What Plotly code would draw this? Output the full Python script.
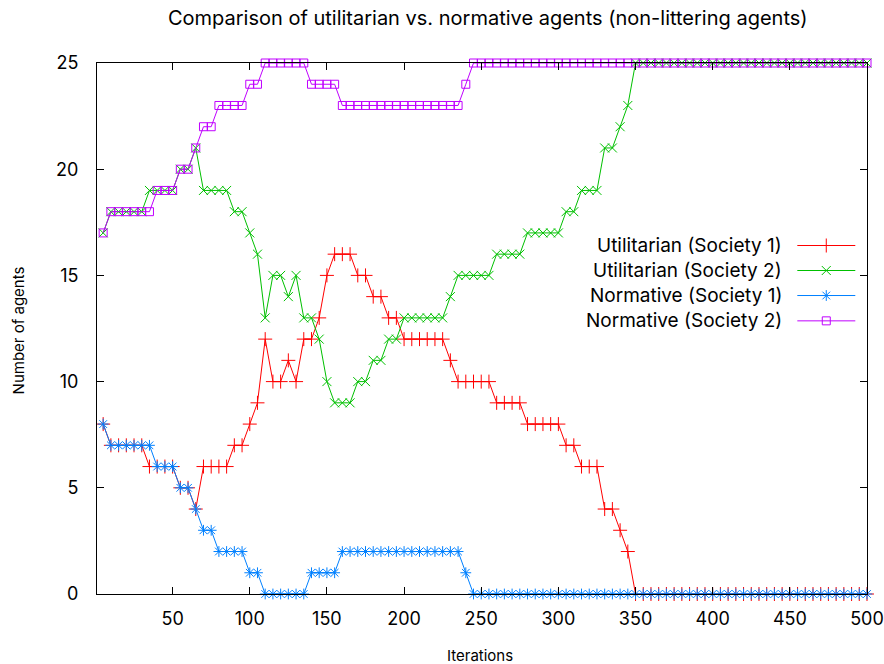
import plotly.graph_objects as go

# ---- data ----
iterations = list(range(5, 505, 5))

util_s1 = [8, 7, 7, 7, 7, 7, 6, 6, 6, 6, 5, 5, 4, 6, 6, 6, 6, 7, 7, 8,
           9, 12, 10, 10, 11, 10, 12, 12, 13, 15, 16, 16, 16, 15, 15, 14, 14, 13, 13, 12,
           12, 12, 12, 12, 12, 11, 10, 10, 10, 10, 10, 9, 9, 9, 9, 8, 8, 8, 8, 8,
           7, 7, 6, 6, 6, 4, 4, 3, 2, 0] + [0] * 30

util_s2 = [17, 18, 18, 18, 18, 18, 19, 19, 19, 19, 20, 20, 21, 19, 19, 19, 19, 18, 18, 17,
           16, 13, 15, 15, 14, 15, 13, 13, 12, 10, 9, 9, 9, 10, 10, 11, 11, 12, 12, 13,
           13, 13, 13, 13, 13, 14, 15, 15, 15, 15, 15, 16, 16, 16, 16, 17, 17, 17, 17, 17,
           18, 18, 19, 19, 19, 21, 21, 22, 23, 25] + [25] * 30

norm_s1 = [8, 7, 7, 7, 7, 7, 7, 6, 6, 6, 5, 5, 4, 3, 3, 2, 2, 2, 2, 1,
           1, 0, 0, 0, 0, 0, 0, 1, 1, 1, 1, 2, 2, 2, 2, 2, 2, 2, 2, 2,
           2, 2, 2, 2, 2, 2, 2, 1] + [0] * 52

norm_s2 = [17, 18, 18, 18, 18, 18, 18, 19, 19, 19, 20, 20, 21, 22, 22, 23, 23, 23, 23, 24,
           24, 25, 25, 25, 25, 25, 25, 24, 24, 24, 24, 23, 23, 23, 23, 23, 23, 23, 23, 23,
           23, 23, 23, 23, 23, 23, 23, 24] + [25] * 52

series_names = ["Utilitarian (Society 1)", "Utilitarian (Society 2)",
                "Normative (Society 1)", "Normative (Society 2)"]
series_values = [util_s1, util_s2, norm_s1, norm_s2]
colors = ["#ff0000", "#00c000", "#0080ff", "#c000ff"]
symbols = ["cross-thin-open", "x-thin-open", "asterisk-open", "square-open"]
sizes = [10, 9, 9, 8]

x_ticks = [50, 100, 150, 200, 250, 300, 350, 400, 450, 500]
y_ticks = [0, 5, 10, 15, 20, 25]

FONT = "Inter, Liberation Sans, Arial, sans-serif"

fig = go.Figure()
for name, vals, c, s, sz in zip(series_names, series_values, colors, symbols, sizes):
    fig.add_trace(go.Scatter(
        x=iterations, y=vals, mode="lines+markers", name=name,
        line=dict(color=c, width=1),
        marker=dict(symbol=s, size=sz, color=c, line=dict(color=c, width=1)),
        showlegend=False, cliponaxis=False,
    ))

# custom legend (text right, sample on the right), drawn in plot-fraction coords
leg_y = [0.6563, 0.6092, 0.5621, 0.5144]
lx0, lx1, lxm, ltx = 0.9095, 0.9848, 0.9471, 0.8913
for name, c, s, sz, yy in zip(series_names, colors, symbols, sizes, leg_y):
    fig.add_trace(go.Scatter(
        x=[lx0, lx1], y=[yy, yy], mode="lines", line=dict(color=c, width=1),
        xaxis="x2", yaxis="y2", showlegend=False, hoverinfo="skip"))
    fig.add_trace(go.Scatter(
        x=[lxm], y=[yy], mode="markers",
        marker=dict(symbol=s, size=sz, color=c, line=dict(color=c, width=1)),
        xaxis="x2", yaxis="y2", showlegend=False, hoverinfo="skip"))
    fig.add_annotation(x=ltx, y=yy, xref="paper", yref="paper", text=name,
                       showarrow=False, xanchor="right", yanchor="middle", borderpad=0,
                       font=dict(family=FONT, size=19, color="#000000"))

# axis titles as annotations
fig.add_annotation(x=0.4978, y=-0.115, xref="paper", yref="paper", text="Iterations",
                   showarrow=False, xanchor="center", yanchor="middle",
                   font=dict(family=FONT, size=15, color="#000000"))
fig.add_annotation(x=-0.1022, y=0.497, xref="paper", yref="paper", text="Number of agents",
                   showarrow=False, xanchor="center", yanchor="middle", textangle=-90,
                   font=dict(family=FONT, size=15, color="#000000"))

fig.update_layout(
    width=884, height=664,
    margin=dict(l=97, r=17, t=63, b=70, autoexpand=False),
    paper_bgcolor="white", plot_bgcolor="white",
    font=dict(family=FONT, color="#000000"),
    title=dict(text="Comparison of utilitarian vs. normative agents (non-littering agents)",
               x=0.5075, xref="paper", xanchor="center", y=0.973, yanchor="middle",
               font=dict(family=FONT, size=20, color="#000000")),
    xaxis=dict(range=[1, 500], tickvals=x_ticks, ticks="inside", ticklen=7,
               tickcolor="#000000", showline=True, linecolor="#000000", linewidth=1,
               mirror="ticks", showgrid=False, zeroline=False, automargin=False,
               ticklabelstandoff=8, tickfont=dict(size=18)),
    yaxis=dict(range=[0, 25], tickvals=y_ticks, ticks="inside", ticklen=7,
               tickcolor="#000000", showline=True, linecolor="#000000", linewidth=1,
               mirror="ticks", showgrid=False, zeroline=False, automargin=False,
               ticklabelstandoff=14, tickfont=dict(size=18)),
    xaxis2=dict(overlaying="x", range=[0, 1], visible=False, fixedrange=True),
    yaxis2=dict(overlaying="y", range=[0, 1], visible=False, fixedrange=True),
)

fig.write_html("out.html")
